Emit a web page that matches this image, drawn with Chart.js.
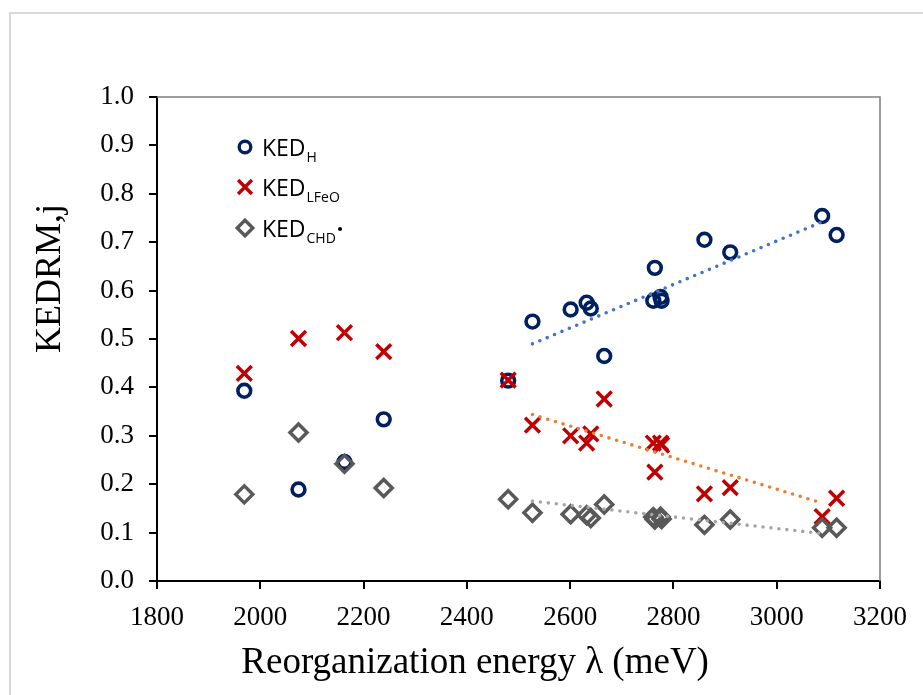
<!DOCTYPE html>
<html><head><meta charset="utf-8">
<script src="https://cdn.jsdelivr.net/npm/chart.js@4/dist/chart.umd.min.js"></script>
<style>html,body{margin:0;padding:0;background:#fff;}#wrap{position:relative;width:923px;height:695px;}</style>
</head><body><div id="wrap"><canvas id="c" width="923" height="695"></canvas></div>
<script>
// Data
const lambdaMeV = [1969, 2074, 2163, 2239, 2480, 2527, 2601, 2632, 2640, 2666, 2761, 2764, 2775, 2777, 2860, 2910, 3088, 3116];
const kedH      = [0.393, 0.189, 0.246, 0.334, 0.414, 0.536, 0.561, 0.575, 0.563, 0.465, 0.579, 0.647, 0.587, 0.579, 0.705, 0.679, 0.754, 0.715];
const kedLFeO   = [0.429, 0.501, 0.513, 0.474, 0.415, 0.322, 0.300, 0.285, 0.304, 0.376, 0.285, 0.225, 0.285, 0.281, 0.180, 0.193, 0.133, 0.171];
const kedCHD    = [0.179, 0.307, 0.242, 0.192, 0.169, 0.141, 0.138, 0.136, 0.130, 0.158, 0.132, 0.127, 0.133, 0.128, 0.116, 0.127, 0.110, 0.110];
const trendX    = [2527, 3088];
const trendH    = [0.490, 0.742];
const trendLFeO = [0.344, 0.161];
const trendCHD  = [0.165, 0.098];
const xTickValues = [1800, 2000, 2200, 2400, 2600, 2800, 3000, 3200];
const yTickValues = [0.0, 0.1, 0.2, 0.3, 0.4, 0.5, 0.6, 0.7, 0.8, 0.9, 1.0];
const xTitle = 'Reorganization energy \u03BB (meV)';
const yTitle = 'KEDRM,j';
const legendMain = ['KED', 'KED', 'KED'];
const legendSub  = ['H', 'LFeO', 'CHD'];
const legendTail = ['', '', '\u00B7'];

const pts = (xs, ys) => xs.map((x, i) => ({x: x, y: ys[i]}));

const markerSets = [
  {label: 'KED_H', data: pts(lambdaMeV, kedH), pointStyle: 'circle', pointRadius: 6.4, pointBorderWidth: 3.6,
   borderColor: '#002060', pointBorderColor: '#002060', pointBackgroundColor: 'rgba(0,0,0,0)', showLine: false, order: 3},
  {label: 'KED_LFeO', data: pts(lambdaMeV, kedLFeO), pointStyle: 'crossRot', pointRadius: 10.5, pointBorderWidth: 3.5,
   borderColor: '#C00000', pointBorderColor: '#C00000', pointBackgroundColor: 'rgba(0,0,0,0)', showLine: false, order: 2},
  {label: 'KED_CHD', data: pts(lambdaMeV, kedCHD), pointStyle: 'rectRot', pointRadius: 8.5, pointBorderWidth: 3.5,
   borderColor: '#595959', pointBorderColor: '#595959', pointBackgroundColor: 'rgba(0,0,0,0)', showLine: false, order: 1}
];
const trendStyle = (c) => ({showLine: true, pointRadius: 0, borderColor: c, borderWidth: 3.6, borderDash: [0, 8],
  borderCapStyle: 'round', fill: false, order: 0});
const trendSets = [
  Object.assign({label: 'trend H', data: pts(trendX, trendH)}, trendStyle('#4472C4')),
  Object.assign({label: 'trend LFeO', data: pts(trendX, trendLFeO)}, trendStyle('#ED7D31')),
  Object.assign({label: 'trend CHD', data: pts(trendX, trendCHD)}, trendStyle('#A5A5A5'))
];

const deco = {
  id: 'deco',
  beforeDraw(chart) {
    const ctx = chart.ctx;
    ctx.save();
    ctx.fillStyle = '#fff';
    ctx.fillRect(0, 0, chart.width, chart.height);
    ctx.strokeStyle = '#d9d9d9';
    ctx.lineWidth = 2;
    ctx.strokeRect(10, 13, 1200, 1200);
    ctx.restore();
  },
  afterDatasetsDraw(chart) {
    const ctx = chart.ctx, a = chart.chartArea;
    ctx.save();
    ctx.strokeStyle = '#7f7f7f';
    ctx.lineWidth = 1.5;
    ctx.beginPath();
    ctx.moveTo(a.left, a.top);
    ctx.lineTo(a.right, a.top);
    ctx.lineTo(a.right, a.bottom);
    ctx.stroke();
    ctx.fillStyle = '#000';
    ctx.font = '37px "Liberation Serif"';
    ctx.textAlign = 'center';
    ctx.textBaseline = 'alphabetic';
    ctx.fillText(xTitle, a.left + (a.right - a.left) * 0.44, 673);
    ctx.save();
    ctx.translate(60, a.top + (a.bottom - a.top) * 0.375);
    ctx.rotate(-Math.PI / 2);
    ctx.font = '36px "Liberation Serif"';
    ctx.fillText(yTitle, 0, 0);
    ctx.restore();
    const baselines = [156, 196, 237];
    const sizes = [5.8, 9.8, 7.8];
    for (let i = 0; i < 3; i++) {
      const ds = chart.data.datasets[i];
      ctx.save();
      ctx.strokeStyle = ds.pointBorderColor;
      ctx.fillStyle = 'rgba(0,0,0,0)';
      ctx.lineWidth = 3.4;
      Chart.helpers.drawPoint(ctx, {pointStyle: ds.pointStyle, radius: sizes[i], rotation: 0, borderWidth: 3.4},
        245, baselines[i] - 9);
      ctx.restore();
      ctx.fillStyle = '#000';
      ctx.textAlign = 'left';
      ctx.font = '23px "Open Sans"';
      let x = 262;
      ctx.fillText(legendMain[i], x, baselines[i]);
      x += ctx.measureText(legendMain[i]).width + 1;
      ctx.font = '14px "Open Sans"';
      ctx.fillText(legendSub[i], x, baselines[i] + 6);
      x += ctx.measureText(legendSub[i]).width + 1;
      if (legendTail[i]) {
        ctx.font = 'bold 23px "Open Sans"';
        ctx.fillText(legendTail[i], x, baselines[i]);
      }
    }
    ctx.restore();
  }
};

new Chart(document.getElementById('c'), {
  type: 'scatter',
  data: {datasets: markerSets.concat(trendSets)},
  options: {
    responsive: false, animation: false, devicePixelRatio: 1,
    layout: {padding: {left: 0, top: 97, right: 43, bottom: 0}},
    plugins: {legend: {display: false}, tooltip: {enabled: false}},
    scales: {
      x: {
        type: 'linear', min: 1800, max: 3200,
        afterBuildTicks: s => { s.ticks = xTickValues.map(v => ({value: v})); },
        afterFit: s => { s.height = 114; },
        ticks: {font: {family: 'Liberation Serif', size: 27}, color: '#000', padding: 13, maxRotation: 0, autoSkip: false,
          callback: v => String(v)},
        grid: {drawOnChartArea: false, drawTicks: true, tickLength: 8, color: '#000', lineWidth: 2},
        border: {display: true, color: '#000', width: 2},
        title: {display: false}
      },
      y: {
        type: 'linear', min: 0, max: 1,
        afterBuildTicks: s => { s.ticks = yTickValues.map(v => ({value: v})); },
        afterFit: s => { s.width = 157; },
        ticks: {font: {family: 'Liberation Serif', size: 27}, color: '#000', padding: 15, autoSkip: false,
          callback: v => Number(v).toFixed(1)},
        grid: {drawOnChartArea: false, drawTicks: true, tickLength: 8, color: '#000', lineWidth: 2},
        border: {display: true, color: '#000', width: 2},
        title: {display: false}
      }
    }
  },
  plugins: [deco]
});
</script></body></html>
